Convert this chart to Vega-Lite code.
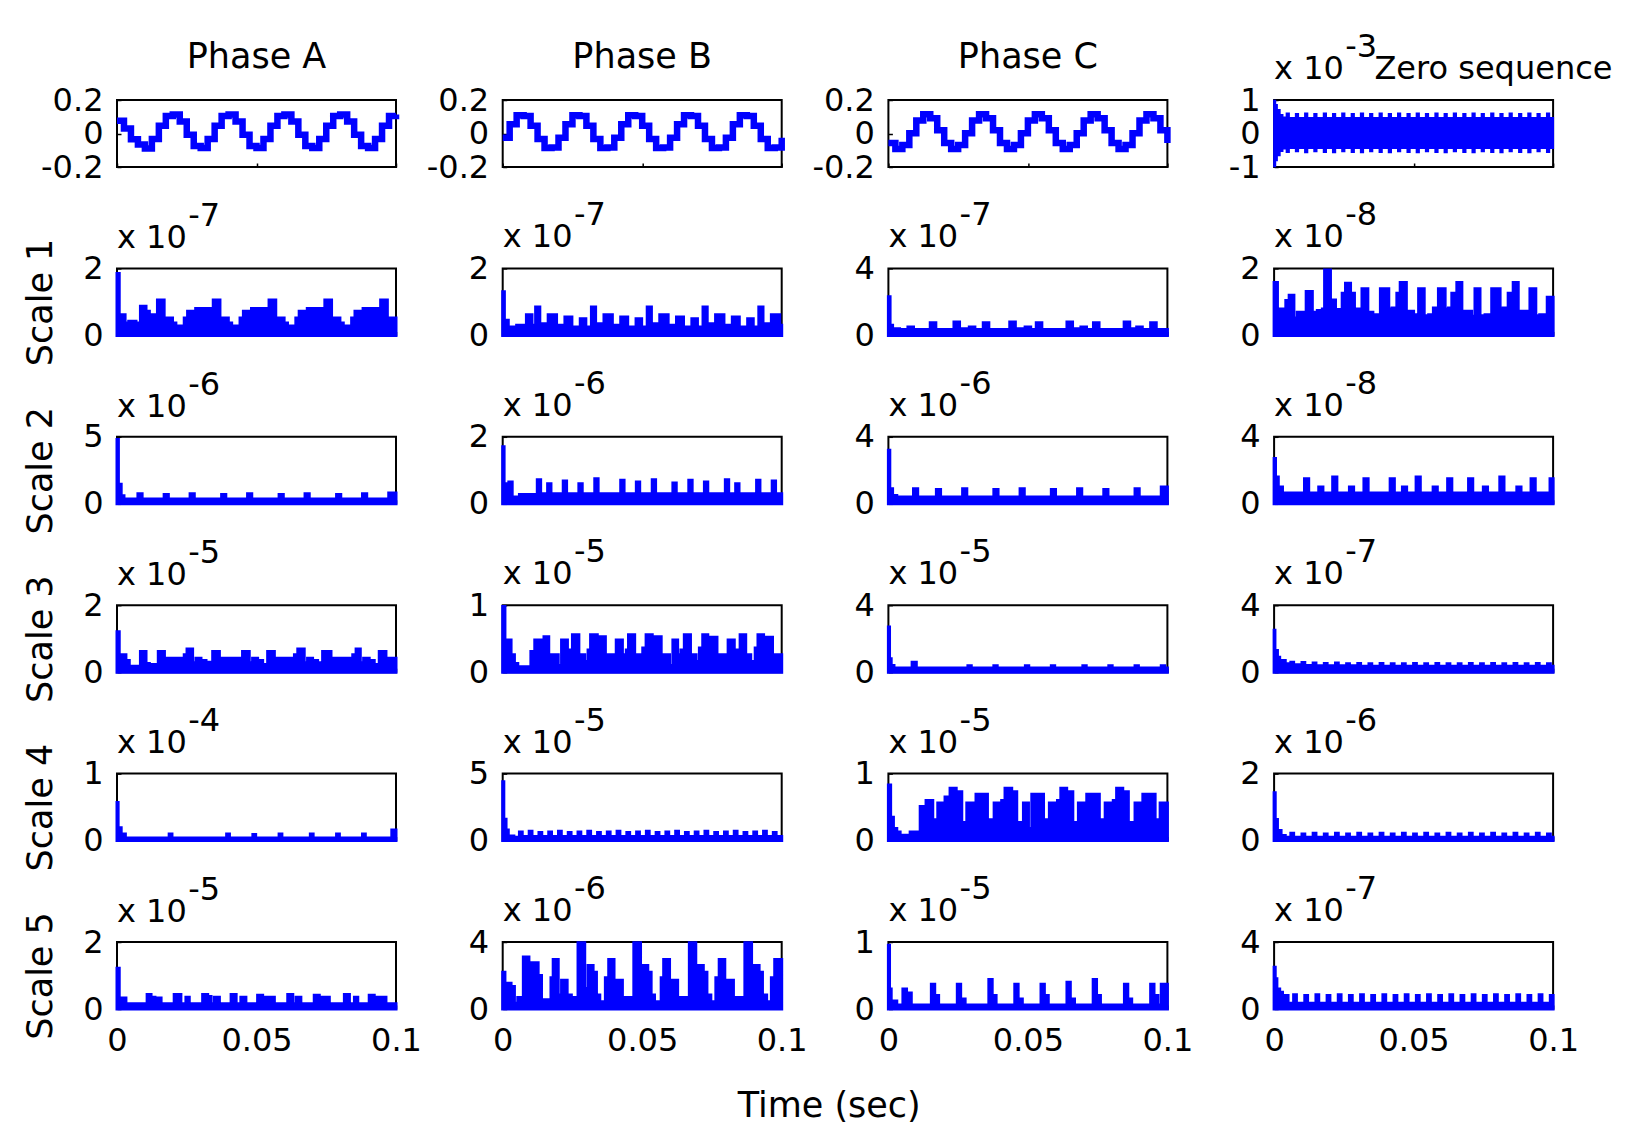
{
"$schema":"https://vega.github.io/schema/vega-lite/v6.json",
"background":"white",
"padding":{"left":21,"top":30,"right":5,"bottom":5},
"bounds":"flush",
"columns":4,
"spacing":{"row":101.4,"column":106.7},
"config":{
 "view":{"stroke":"#000","strokeWidth":2},
 "axis":{"domain":false,"grid":false,"ticks":true,"tickSize":-4,"tickWidth":1.5,"tickColor":"#000","labelFont":"DejaVu Sans","labelFontSize":32,"labelColor":"#000","titleFont":"DejaVu Sans","titleFontSize":35,"titleFontWeight":"normal","titleColor":"#000","labelFlush":false,"labelOverlap":false},
 "axisY":{"labelPadding":18},
 "axisX":{"labelPadding":20},
 "title":{"anchor":"start","frame":"group","font":"DejaVu Sans","fontSize":32,"fontWeight":"normal","color":"#000","subtitleFont":"DejaVu Sans","subtitleFontSize":32,"subtitleColor":"#000","subtitlePadding":-10,"offset":-2}
},
"datasets":{
"a":[{"t":0,"v":0.076},{"t":0.0025,"v":0.030},{"t":0.005,"v":-0.035},{"t":0.0075,"v":-0.065},{"t":0.01,"v":-0.090},{"t":0.0125,"v":-0.033},{"t":0.015,"v":0.047},{"t":0.0175,"v":0.105},
{"t":0.02,"v":0.113},{"t":0.0225,"v":0.071},{"t":0.025,"v":-0.007},{"t":0.0275,"v":-0.074},{"t":0.03,"v":-0.087},{"t":0.0325,"v":-0.033},{"t":0.035,"v":0.047},{"t":0.0375,"v":0.105},
{"t":0.04,"v":0.113},{"t":0.0425,"v":0.071},{"t":0.045,"v":-0.007},{"t":0.0475,"v":-0.074},{"t":0.05,"v":-0.087},{"t":0.0525,"v":-0.033},{"t":0.055,"v":0.047},{"t":0.0575,"v":0.105},
{"t":0.06,"v":0.113},{"t":0.0625,"v":0.071},{"t":0.065,"v":-0.007},{"t":0.0675,"v":-0.074},{"t":0.07,"v":-0.087},{"t":0.0725,"v":-0.033},{"t":0.075,"v":0.047},{"t":0.0775,"v":0.105},
{"t":0.08,"v":0.113},{"t":0.0825,"v":0.071},{"t":0.085,"v":-0.007},{"t":0.0875,"v":-0.074},{"t":0.09,"v":-0.087},{"t":0.0925,"v":-0.033},{"t":0.095,"v":0.047},{"t":0.0975,"v":0.105},{"t":0.1,"v":0.113}],
"b":[{"t":0,"v":-0.025},{"t":0.0025,"v":0.055},{"t":0.005,"v":0.109},{"t":0.0075,"v":0.105},{"t":0.01,"v":0.047},{"t":0.0125,"v":-0.033},{"t":0.015,"v":-0.087},{"t":0.0175,"v":-0.083},
{"t":0.02,"v":-0.025},{"t":0.0225,"v":0.055},{"t":0.025,"v":0.109},{"t":0.0275,"v":0.105},{"t":0.03,"v":0.047},{"t":0.0325,"v":-0.033},{"t":0.035,"v":-0.087},{"t":0.0375,"v":-0.083},
{"t":0.04,"v":-0.025},{"t":0.0425,"v":0.055},{"t":0.045,"v":0.109},{"t":0.0475,"v":0.105},{"t":0.05,"v":0.047},{"t":0.0525,"v":-0.033},{"t":0.055,"v":-0.087},{"t":0.0575,"v":-0.083},
{"t":0.06,"v":-0.025},{"t":0.0625,"v":0.055},{"t":0.065,"v":0.109},{"t":0.0675,"v":0.105},{"t":0.07,"v":0.047},{"t":0.0725,"v":-0.033},{"t":0.075,"v":-0.087},{"t":0.0775,"v":-0.083},
{"t":0.08,"v":-0.025},{"t":0.0825,"v":0.055},{"t":0.085,"v":0.109},{"t":0.0875,"v":0.105},{"t":0.09,"v":0.047},{"t":0.0925,"v":-0.033},{"t":0.095,"v":-0.087},{"t":0.0975,"v":-0.083},{"t":0.1,"v":-0.025}],
"c":[{"t":0,"v":-0.056},{"t":0.0025,"v":-0.093},{"t":0.005,"v":-0.069},{"t":0.0075,"v":0.002},{"t":0.01,"v":0.078},{"t":0.0125,"v":0.115},{"t":0.015,"v":0.091},{"t":0.0175,"v":0.020},
{"t":0.02,"v":-0.056},{"t":0.0225,"v":-0.093},{"t":0.025,"v":-0.069},{"t":0.0275,"v":0.002},{"t":0.03,"v":0.078},{"t":0.0325,"v":0.115},{"t":0.035,"v":0.091},{"t":0.0375,"v":0.020},
{"t":0.04,"v":-0.056},{"t":0.0425,"v":-0.093},{"t":0.045,"v":-0.069},{"t":0.0475,"v":0.002},{"t":0.05,"v":0.078},{"t":0.0525,"v":0.115},{"t":0.055,"v":0.091},{"t":0.0575,"v":0.020},
{"t":0.06,"v":-0.056},{"t":0.0625,"v":-0.093},{"t":0.065,"v":-0.069},{"t":0.0675,"v":0.002},{"t":0.07,"v":0.078},{"t":0.0725,"v":0.115},{"t":0.075,"v":0.091},{"t":0.0775,"v":0.020},
{"t":0.08,"v":-0.056},{"t":0.0825,"v":-0.093},{"t":0.085,"v":-0.069},{"t":0.0875,"v":0.002},{"t":0.09,"v":0.078},{"t":0.0925,"v":0.115},{"t":0.095,"v":0.091},{"t":0.0975,"v":0.020},{"t":0.1,"v":-0.056}],
"z":[{"t":0,"hi":0.98,"lo":-0.98},{"t":0.0004,"hi":0.85,"lo":-0.8},{"t":0.001,"hi":0.7,"lo":-0.65},{"t":0.002,"hi":0.55,"lo":-0.52},{"t":0.003,"hi":0.48,"lo":-0.45},
{"t":0.0045,"hi":0.6,"lo":-0.55},{"t":0.0053,"hi":0.46,"lo":-0.43},{"t":0.0078,"hi":0.58,"lo":-0.53},{"t":0.0086,"hi":0.46,"lo":-0.43},{"t":0.0111,"hi":0.6,"lo":-0.56},{"t":0.0119,"hi":0.46,"lo":-0.43},
{"t":0.0144,"hi":0.58,"lo":-0.53},{"t":0.0152,"hi":0.46,"lo":-0.43},{"t":0.0178,"hi":0.6,"lo":-0.55},{"t":0.0186,"hi":0.46,"lo":-0.43},{"t":0.0211,"hi":0.58,"lo":-0.56},{"t":0.0219,"hi":0.46,"lo":-0.43},
{"t":0.0244,"hi":0.6,"lo":-0.53},{"t":0.0252,"hi":0.46,"lo":-0.43},{"t":0.0278,"hi":0.58,"lo":-0.55},{"t":0.0286,"hi":0.46,"lo":-0.43},{"t":0.0311,"hi":0.6,"lo":-0.56},{"t":0.0319,"hi":0.46,"lo":-0.43},
{"t":0.0344,"hi":0.58,"lo":-0.53},{"t":0.0352,"hi":0.46,"lo":-0.43},{"t":0.0378,"hi":0.6,"lo":-0.55},{"t":0.0386,"hi":0.46,"lo":-0.43},{"t":0.0411,"hi":0.58,"lo":-0.56},{"t":0.0419,"hi":0.46,"lo":-0.43},
{"t":0.0444,"hi":0.6,"lo":-0.53},{"t":0.0452,"hi":0.46,"lo":-0.43},{"t":0.0478,"hi":0.58,"lo":-0.55},{"t":0.0486,"hi":0.46,"lo":-0.43},{"t":0.0511,"hi":0.6,"lo":-0.56},{"t":0.0519,"hi":0.46,"lo":-0.43},
{"t":0.0544,"hi":0.58,"lo":-0.53},{"t":0.0552,"hi":0.46,"lo":-0.43},{"t":0.0578,"hi":0.6,"lo":-0.55},{"t":0.0586,"hi":0.46,"lo":-0.43},{"t":0.0611,"hi":0.58,"lo":-0.56},{"t":0.0619,"hi":0.46,"lo":-0.43},
{"t":0.0644,"hi":0.6,"lo":-0.53},{"t":0.0652,"hi":0.46,"lo":-0.43},{"t":0.0678,"hi":0.58,"lo":-0.55},{"t":0.0686,"hi":0.46,"lo":-0.43},{"t":0.0711,"hi":0.6,"lo":-0.56},{"t":0.0719,"hi":0.46,"lo":-0.43},
{"t":0.0744,"hi":0.58,"lo":-0.53},{"t":0.0752,"hi":0.46,"lo":-0.43},{"t":0.0778,"hi":0.6,"lo":-0.55},{"t":0.0786,"hi":0.46,"lo":-0.43},{"t":0.0811,"hi":0.58,"lo":-0.56},{"t":0.0819,"hi":0.46,"lo":-0.43},
{"t":0.0844,"hi":0.6,"lo":-0.53},{"t":0.0852,"hi":0.46,"lo":-0.43},{"t":0.0878,"hi":0.58,"lo":-0.55},{"t":0.0886,"hi":0.46,"lo":-0.43},{"t":0.0911,"hi":0.6,"lo":-0.56},{"t":0.0919,"hi":0.46,"lo":-0.43},
{"t":0.0944,"hi":0.58,"lo":-0.53},{"t":0.0952,"hi":0.46,"lo":-0.43},{"t":0.0978,"hi":0.6,"lo":-0.55},{"t":0.0986,"hi":0.46,"lo":-0.43},{"t":0.1,"hi":0.46,"lo":-0.43}],
"r1c1":[{"t":0,"v":1.85},{"t":0.0008,"v":0.62},{"t":0.0029,"v":0.37},{"t":0.0038,"v":0.2},{"t":0.0042,"v":0.42},{"t":0.0068,"v":0.37},{"t":0.0084,"v":0.87},{"t":0.0104,"v":0.72},{"t":0.0116,"v":0.62},{"t":0.0136,"v":0.33},
{"t":0.0145,"v":1.06},{"t":0.0169,"v":0.42},{"t":0.0175,"v":0.52},{"t":0.0199,"v":0.37},{"t":0.0211,"v":0.28},{"t":0.0241,"v":0.52},{"t":0.0253,"v":0.72},{"t":0.0274,"v":0.47},{"t":0.0282,"v":0.8},{"t":0.0339,"v":0.45},
{"t":0.0345,"v":1.06},{"t":0.0369,"v":0.42},{"t":0.0375,"v":0.52},{"t":0.0399,"v":0.37},{"t":0.0411,"v":0.28},{"t":0.0441,"v":0.52},{"t":0.0453,"v":0.72},{"t":0.0474,"v":0.47},{"t":0.0482,"v":0.8},{"t":0.0539,"v":0.45},
{"t":0.0545,"v":1.06},{"t":0.0569,"v":0.42},{"t":0.0575,"v":0.52},{"t":0.0599,"v":0.37},{"t":0.0611,"v":0.28},{"t":0.0641,"v":0.52},{"t":0.0653,"v":0.72},{"t":0.0674,"v":0.47},{"t":0.0682,"v":0.8},{"t":0.0739,"v":0.45},
{"t":0.0745,"v":1.06},{"t":0.0769,"v":0.42},{"t":0.0775,"v":0.52},{"t":0.0799,"v":0.37},{"t":0.0811,"v":0.28},{"t":0.0841,"v":0.52},{"t":0.0853,"v":0.72},{"t":0.0874,"v":0.47},{"t":0.0882,"v":0.8},{"t":0.0939,"v":0.45},
{"t":0.0945,"v":1.06},{"t":0.0969,"v":0.42},{"t":0.0975,"v":0.52},{"t":0.1,"v":0.52}],
"r1c2":[{"t":0,"v":1.3},{"t":0.0006,"v":0.45},{"t":0.002,"v":0.25},{"t":0.005,"v":0.3},{"t":0.0085,"v":0.62},{"t":0.0105,"v":0.3},
{"t":0.0118,"v":0.85},{"t":0.0133,"v":0.35},{"t":0.0163,"v":0.62},{"t":0.0193,"v":0.3},{"t":0.0223,"v":0.55},{"t":0.0248,"v":0.25},{"t":0.0278,"v":0.5},{"t":0.0298,"v":0.25},
{"t":0.0318,"v":0.85},{"t":0.0333,"v":0.35},{"t":0.0363,"v":0.62},{"t":0.0393,"v":0.3},{"t":0.0423,"v":0.55},{"t":0.0448,"v":0.25},{"t":0.0478,"v":0.5},{"t":0.0498,"v":0.25},
{"t":0.0518,"v":0.85},{"t":0.0533,"v":0.35},{"t":0.0563,"v":0.62},{"t":0.0593,"v":0.3},{"t":0.0623,"v":0.55},{"t":0.0648,"v":0.25},{"t":0.0678,"v":0.5},{"t":0.0698,"v":0.25},
{"t":0.0718,"v":0.85},{"t":0.0733,"v":0.35},{"t":0.0763,"v":0.62},{"t":0.0793,"v":0.3},{"t":0.0823,"v":0.55},{"t":0.0848,"v":0.25},{"t":0.0878,"v":0.5},{"t":0.0898,"v":0.25},
{"t":0.0918,"v":0.85},{"t":0.0933,"v":0.35},{"t":0.0963,"v":0.62},{"t":0.0993,"v":0.3},{"t":0.1,"v":0.3}],
"r1c3":[{"t":0,"v":2.3},{"t":0.0006,"v":0.6},{"t":0.0015,"v":0.4},{"t":0.004,"v":0.35},{"t":0.007,"v":0.5},{"t":0.009,"v":0.35},{"t":0.015,"v":0.75},{"t":0.017,"v":0.35},{"t":0.0235,"v":0.8},{"t":0.0255,"v":0.4},{"t":0.029,"v":0.5},{"t":0.031,"v":0.35},
{"t":0.034,"v":0.75},{"t":0.036,"v":0.35},{"t":0.0435,"v":0.8},{"t":0.0455,"v":0.4},{"t":0.049,"v":0.5},{"t":0.051,"v":0.35},{"t":0.053,"v":0.75},{"t":0.055,"v":0.35},{"t":0.064,"v":0.8},{"t":0.066,"v":0.4},{"t":0.069,"v":0.5},{"t":0.071,"v":0.35},
{"t":0.0735,"v":0.75},{"t":0.0755,"v":0.35},{"t":0.0845,"v":0.8},{"t":0.0865,"v":0.4},{"t":0.089,"v":0.5},{"t":0.091,"v":0.35},{"t":0.094,"v":0.75},{"t":0.096,"v":0.35},{"t":0.1,"v":0.35}],
"r1c4":[{"t":0,"v":1.58},{"t":0.0012,"v":0.79},{"t":0.0042,"v":1.04},{"t":0.0054,"v":1.2},{"t":0.0071,"v":0.52},{"t":0.0083,"v":0.69},{"t":0.0107,"v":0.59},{"t":0.0115,"v":1.31},{"t":0.0137,"v":0.69},{"t":0.0155,"v":0.74},{"t":0.0173,"v":0.79},{"t":0.0181,"v":1.95},
{"t":0.0202,"v":1.06},{"t":0.022,"v":0.77},{"t":0.0244,"v":1.26},{"t":0.0256,"v":1.56},{"t":0.0274,"v":1.26},{"t":0.0288,"v":0.79},{"t":0.0306,"v":0.69},{"t":0.0315,"v":1.39},{"t":0.0336,"v":0.69},{"t":0.0354,"v":0.52},{"t":0.0363,"v":0.62},{"t":0.0381,"v":1.39},
{"t":0.0411,"v":0.79},{"t":0.0423,"v":0.82},{"t":0.044,"v":1.26},{"t":0.0452,"v":1.58},{"t":0.0474,"v":0.72},{"t":0.05,"v":0.62},{"t":0.0518,"v":1.39},{"t":0.0538,"v":0.59},{"t":0.0554,"v":0.62},{"t":0.0571,"v":0.82},{"t":0.0589,"v":1.39},
{"t":0.0613,"v":0.79},{"t":0.0625,"v":0.82},{"t":0.0637,"v":1.26},{"t":0.0655,"v":1.58},{"t":0.0673,"v":0.72},{"t":0.0708,"v":0.57},{"t":0.072,"v":1.39},{"t":0.0738,"v":0.59},{"t":0.0756,"v":0.62},{"t":0.078,"v":1.39},
{"t":0.081,"v":0.79},{"t":0.0821,"v":0.82},{"t":0.0839,"v":1.26},{"t":0.0857,"v":1.58},{"t":0.0875,"v":0.72},{"t":0.0917,"v":1.39},{"t":0.0938,"v":0.59},{"t":0.0952,"v":0.62},{"t":0.0979,"v":1.14},{"t":0.1,"v":1.14}],
"r2c1":[{"t":0,"v":4.8},{"t":0.0005,"v":1.45},{"t":0.0015,"v":0.6},{"t":0.0025,"v":0.35},{"t":0.0075,"v":0.75},{"t":0.009,"v":0.35},{"t":0.0169,"v":0.7},{"t":0.0184,"v":0.35},{"t":0.0262,"v":0.75},{"t":0.0277,"v":0.35},{"t":0.0375,"v":0.7},{"t":0.039,"v":0.35},
{"t":0.0468,"v":0.75},{"t":0.0483,"v":0.35},{"t":0.0581,"v":0.7},{"t":0.0596,"v":0.35},{"t":0.0674,"v":0.75},{"t":0.0689,"v":0.35},{"t":0.0787,"v":0.7},{"t":0.0802,"v":0.35},{"t":0.088,"v":0.75},{"t":0.0895,"v":0.35},{"t":0.0974,"v":0.8},{"t":0.1,"v":0.8}],
"r2c2":[{"t":0,"v":1.7},{"t":0.0005,"v":0.6},{"t":0.0012,"v":0.35},{"t":0.0022,"v":0.65},{"t":0.0034,"v":0.2},{"t":0.006,"v":0.28},{"t":0.0124,"v":0.72},{"t":0.0136,"v":0.3},{"t":0.0161,"v":0.6},{"t":0.0173,"v":0.3},{"t":0.0217,"v":0.68},{"t":0.0229,"v":0.3},
{"t":0.0273,"v":0.6},{"t":0.0285,"v":0.3},{"t":0.033,"v":0.75},{"t":0.0342,"v":0.3},{"t":0.0423,"v":0.7},{"t":0.0435,"v":0.3},{"t":0.0479,"v":0.65},{"t":0.0491,"v":0.3},{"t":0.0536,"v":0.72},{"t":0.0548,"v":0.3},{"t":0.061,"v":0.62},{"t":0.0622,"v":0.3},
{"t":0.0667,"v":0.7},{"t":0.0679,"v":0.3},{"t":0.0723,"v":0.65},{"t":0.0735,"v":0.3},{"t":0.0798,"v":0.72},{"t":0.081,"v":0.3},{"t":0.0835,"v":0.6},{"t":0.0847,"v":0.3},{"t":0.091,"v":0.7},{"t":0.0922,"v":0.3},{"t":0.0966,"v":0.68},{"t":0.0978,"v":0.3},{"t":0.1,"v":0.3}],
"r2c3":[{"t":0,"v":3.2},{"t":0.0005,"v":0.9},{"t":0.0015,"v":0.5},{"t":0.003,"v":0.4},{"t":0.009,"v":0.9},{"t":0.0105,"v":0.4},{"t":0.0172,"v":0.85},{"t":0.0187,"v":0.4},{"t":0.0266,"v":0.9},{"t":0.0281,"v":0.4},{"t":0.0378,"v":0.85},{"t":0.0393,"v":0.4},
{"t":0.0472,"v":0.9},{"t":0.0487,"v":0.4},{"t":0.0584,"v":0.85},{"t":0.0599,"v":0.4},{"t":0.0678,"v":0.9},{"t":0.0693,"v":0.4},{"t":0.0772,"v":0.85},{"t":0.0787,"v":0.4},{"t":0.0884,"v":0.9},{"t":0.0899,"v":0.4},{"t":0.0978,"v":1.0},{"t":0.1,"v":1.0}],
"r2c4":[{"t":0,"v":2.7},{"t":0.0005,"v":1.6},{"t":0.0015,"v":1.0},{"t":0.003,"v":0.65},{"t":0.0109,"v":1.5},{"t":0.0124,"v":0.65},{"t":0.016,"v":1.0},{"t":0.0175,"v":0.65},{"t":0.021,"v":1.6},{"t":0.0225,"v":0.65},{"t":0.027,"v":1.0},{"t":0.0285,"v":0.65},
{"t":0.0322,"v":1.5},{"t":0.0337,"v":0.65},{"t":0.0416,"v":1.5},{"t":0.0431,"v":0.65},{"t":0.046,"v":1.0},{"t":0.0475,"v":0.65},{"t":0.0509,"v":1.6},{"t":0.0524,"v":0.65},{"t":0.057,"v":1.0},{"t":0.0585,"v":0.65},
{"t":0.0622,"v":1.5},{"t":0.0637,"v":0.65},{"t":0.0697,"v":1.5},{"t":0.0712,"v":0.65},{"t":0.075,"v":1.0},{"t":0.0765,"v":0.65},{"t":0.0809,"v":1.6},{"t":0.0824,"v":0.65},{"t":0.087,"v":1.0},{"t":0.0885,"v":0.65},{"t":0.0921,"v":1.5},{"t":0.0936,"v":0.65},{"t":0.0989,"v":1.5},{"t":0.1,"v":1.5}],
"r3c1":[{"t":0,"v":1.21},{"t":0.0008,"v":0.52},{"t":0.0032,"v":0.35},{"t":0.0044,"v":0.18},{"t":0.0084,"v":0.62},{"t":0.0104,"v":0.26},{"t":0.0116,"v":0.23},{"t":0.0148,"v":0.62},{"t":0.017,"v":0.33},{"t":0.0179,"v":0.42},{"t":0.0241,"v":0.52},{"t":0.0251,"v":0.69},
{"t":0.0271,"v":0.28},{"t":0.0283,"v":0.42},{"t":0.0301,"v":0.35},{"t":0.0319,"v":0.3},{"t":0.0343,"v":0.62},{"t":0.0367,"v":0.42},{"t":0.045,"v":0.62},{"t":0.0474,"v":0.28},{"t":0.0486,"v":0.42},{"t":0.0504,"v":0.35},{"t":0.0522,"v":0.23},{"t":0.054,"v":0.62},
{"t":0.0564,"v":0.42},{"t":0.0636,"v":0.52},{"t":0.0648,"v":0.69},{"t":0.0671,"v":0.28},{"t":0.0683,"v":0.42},{"t":0.0701,"v":0.35},{"t":0.0719,"v":0.28},{"t":0.0737,"v":0.62},{"t":0.0767,"v":0.42},{"t":0.0845,"v":0.52},{"t":0.0857,"v":0.69},
{"t":0.0872,"v":0.28},{"t":0.0884,"v":0.42},{"t":0.0904,"v":0.35},{"t":0.0922,"v":0.23},{"t":0.094,"v":0.62},{"t":0.0964,"v":0.42},{"t":0.1,"v":0.42}],
"r3c2":[{"t":0,"v":0.98},{"t":0.0008,"v":0.48},{"t":0.003,"v":0.26},{"t":0.0042,"v":0.13},{"t":0.0054,"v":0.08},{"t":0.0101,"v":0.31},{"t":0.0115,"v":0.48},{"t":0.0139,"v":0.16},{"t":0.0148,"v":0.53},{"t":0.0165,"v":0.26},{"t":0.0199,"v":0.1},{"t":0.0211,"v":0.48},
{"t":0.0232,"v":0.26},{"t":0.024,"v":0.33},{"t":0.025,"v":0.56},{"t":0.0273,"v":0.26},{"t":0.0294,"v":0.16},{"t":0.0306,"v":0.33},{"t":0.0315,"v":0.56},{"t":0.0339,"v":0.16},{"t":0.0348,"v":0.53},{"t":0.0368,"v":0.26},{"t":0.0401,"v":0.1},{"t":0.0407,"v":0.48},
{"t":0.0429,"v":0.26},{"t":0.0443,"v":0.33},{"t":0.0451,"v":0.56},{"t":0.0473,"v":0.26},{"t":0.0494,"v":0.16},{"t":0.0502,"v":0.36},{"t":0.0514,"v":0.56},{"t":0.0536,"v":0.16},{"t":0.0546,"v":0.53},{"t":0.0568,"v":0.26},{"t":0.0598,"v":0.1},{"t":0.061,"v":0.48},
{"t":0.0627,"v":0.26},{"t":0.0639,"v":0.33},{"t":0.0651,"v":0.56},{"t":0.0673,"v":0.26},{"t":0.0693,"v":0.16},{"t":0.0705,"v":0.36},{"t":0.0717,"v":0.56},{"t":0.0735,"v":0.16},{"t":0.0743,"v":0.52},{"t":0.0768,"v":0.26},{"t":0.08,"v":0.1},{"t":0.0808,"v":0.48},
{"t":0.083,"v":0.26},{"t":0.0839,"v":0.33},{"t":0.0851,"v":0.56},{"t":0.0871,"v":0.26},{"t":0.0889,"v":0.16},{"t":0.0905,"v":0.36},{"t":0.0915,"v":0.56},{"t":0.0935,"v":0.16},{"t":0.0943,"v":0.52},{"t":0.0967,"v":0.26},{"t":0.1,"v":0.26}],
"r3c3":[{"t":0,"v":2.7},{"t":0.0004,"v":0.8},{"t":0.001,"v":0.4},{"t":0.002,"v":0.25},{"t":0.0085,"v":0.6},{"t":0.01,"v":0.25},{"t":0.0285,"v":0.38},{"t":0.0297,"v":0.25},{"t":0.0378,"v":0.38},{"t":0.039,"v":0.25},{"t":0.0491,"v":0.38},{"t":0.0503,"v":0.25},
{"t":0.0584,"v":0.38},{"t":0.0596,"v":0.25},{"t":0.0697,"v":0.38},{"t":0.0709,"v":0.25},{"t":0.079,"v":0.38},{"t":0.0802,"v":0.25},{"t":0.0884,"v":0.38},{"t":0.0896,"v":0.25},{"t":0.0978,"v":0.38},{"t":0.099,"v":0.25},{"t":0.1,"v":0.25}],
"r3c4":[{"t":0,"v":2.5},{"t":0.0003,"v":1.3},{"t":0.0012,"v":0.9},{"t":0.002,"v":0.7},{"t":0.004,"v":0.5},{"t":0.006,"v":0.6},{"t":0.007,"v":0.45},{"t":0.01,"v":0.58},{"t":0.011,"v":0.4},{"t":0.014,"v":0.55},{"t":0.015,"v":0.38},{"t":0.018,"v":0.52},{"t":0.019,"v":0.38},
{"t":0.022,"v":0.55},{"t":0.023,"v":0.38},{"t":0.026,"v":0.5},{"t":0.027,"v":0.38},{"t":0.03,"v":0.52},{"t":0.031,"v":0.36},{"t":0.034,"v":0.5},{"t":0.035,"v":0.36},{"t":0.038,"v":0.52},{"t":0.039,"v":0.36},{"t":0.042,"v":0.5},{"t":0.043,"v":0.36},
{"t":0.046,"v":0.5},{"t":0.047,"v":0.36},{"t":0.05,"v":0.52},{"t":0.051,"v":0.36},{"t":0.054,"v":0.5},{"t":0.055,"v":0.36},{"t":0.058,"v":0.52},{"t":0.059,"v":0.36},{"t":0.062,"v":0.5},{"t":0.063,"v":0.36},{"t":0.066,"v":0.5},{"t":0.067,"v":0.36},
{"t":0.07,"v":0.52},{"t":0.071,"v":0.36},{"t":0.074,"v":0.5},{"t":0.075,"v":0.36},{"t":0.078,"v":0.52},{"t":0.079,"v":0.36},{"t":0.082,"v":0.5},{"t":0.083,"v":0.36},{"t":0.086,"v":0.52},{"t":0.087,"v":0.36},{"t":0.09,"v":0.5},{"t":0.091,"v":0.36},
{"t":0.094,"v":0.52},{"t":0.095,"v":0.36},{"t":0.098,"v":0.5},{"t":0.099,"v":0.36},{"t":0.1,"v":0.36}],
"r4c1":[{"t":0,"v":0.57},{"t":0.0004,"v":0.19},{"t":0.0015,"v":0.1},{"t":0.003,"v":0.04},{"t":0.0187,"v":0.1},{"t":0.0197,"v":0.04},{"t":0.0393,"v":0.1},{"t":0.0403,"v":0.04},{"t":0.0487,"v":0.09},{"t":0.0497,"v":0.04},{"t":0.0581,"v":0.1},{"t":0.0591,"v":0.04},
{"t":0.0693,"v":0.1},{"t":0.0703,"v":0.04},{"t":0.0787,"v":0.1},{"t":0.0797,"v":0.04},{"t":0.088,"v":0.1},{"t":0.089,"v":0.04},{"t":0.0985,"v":0.16},{"t":0.1,"v":0.16}],
"r4c2":[{"t":0,"v":4.4},{"t":0.0004,"v":1.6},{"t":0.0012,"v":0.8},{"t":0.002,"v":0.35},{"t":0.004,"v":0.25},{"t":0.006,"v":0.65},{"t":0.007,"v":0.3},{"t":0.0095,"v":0.7},{"t":0.0105,"v":0.3},{"t":0.013,"v":0.6},{"t":0.014,"v":0.3},{"t":0.0165,"v":0.65},{"t":0.0175,"v":0.3},
{"t":0.02,"v":0.7},{"t":0.021,"v":0.3},{"t":0.0235,"v":0.6},{"t":0.0245,"v":0.3},{"t":0.027,"v":0.65},{"t":0.028,"v":0.3},{"t":0.0305,"v":0.7},{"t":0.0315,"v":0.3},{"t":0.034,"v":0.6},{"t":0.035,"v":0.3},{"t":0.0375,"v":0.65},{"t":0.0385,"v":0.3},
{"t":0.041,"v":0.7},{"t":0.042,"v":0.3},{"t":0.0445,"v":0.6},{"t":0.0455,"v":0.3},{"t":0.048,"v":0.65},{"t":0.049,"v":0.3},{"t":0.0515,"v":0.7},{"t":0.0525,"v":0.3},{"t":0.055,"v":0.6},{"t":0.056,"v":0.3},{"t":0.0585,"v":0.65},{"t":0.0595,"v":0.3},
{"t":0.062,"v":0.7},{"t":0.063,"v":0.3},{"t":0.0655,"v":0.6},{"t":0.0665,"v":0.3},{"t":0.069,"v":0.65},{"t":0.07,"v":0.3},{"t":0.0725,"v":0.7},{"t":0.0735,"v":0.3},{"t":0.076,"v":0.6},{"t":0.077,"v":0.3},{"t":0.0795,"v":0.65},{"t":0.0805,"v":0.3},
{"t":0.083,"v":0.7},{"t":0.084,"v":0.3},{"t":0.0865,"v":0.6},{"t":0.0875,"v":0.3},{"t":0.09,"v":0.65},{"t":0.091,"v":0.3},{"t":0.0935,"v":0.7},{"t":0.0945,"v":0.3},{"t":0.097,"v":0.6},{"t":0.098,"v":0.3},{"t":0.1,"v":0.3}],
"r4c3":[{"t":0,"v":0.83},{"t":0.0008,"v":0.35},{"t":0.0018,"v":0.18},{"t":0.003,"v":0.13},{"t":0.0042,"v":0.08},{"t":0.0078,"v":0.13},{"t":0.0114,"v":0.51},{"t":0.0135,"v":0.6},{"t":0.0159,"v":0.31},{"t":0.0177,"v":0.56},{"t":0.0197,"v":0.35},{"t":0.0203,"v":0.65},
{"t":0.0221,"v":0.78},{"t":0.0243,"v":0.73},{"t":0.0263,"v":0.27},{"t":0.0281,"v":0.56},{"t":0.0305,"v":0.18},{"t":0.0314,"v":0.69},{"t":0.0355,"v":0.31},{"t":0.0379,"v":0.56},{"t":0.0398,"v":0.27},{"t":0.0406,"v":0.6},{"t":0.0418,"v":0.78},{"t":0.0442,"v":0.73},
{"t":0.046,"v":0.27},{"t":0.0484,"v":0.56},{"t":0.0502,"v":0.18},{"t":0.0514,"v":0.69},{"t":0.0556,"v":0.31},{"t":0.0577,"v":0.56},{"t":0.0597,"v":0.27},{"t":0.0606,"v":0.6},{"t":0.0618,"v":0.78},{"t":0.0639,"v":0.73},{"t":0.0661,"v":0.27},{"t":0.0681,"v":0.56},
{"t":0.0701,"v":0.18},{"t":0.0711,"v":0.69},{"t":0.0756,"v":0.31},{"t":0.0777,"v":0.56},{"t":0.0797,"v":0.27},{"t":0.0806,"v":0.6},{"t":0.0818,"v":0.78},{"t":0.084,"v":0.73},{"t":0.086,"v":0.27},{"t":0.0884,"v":0.56},{"t":0.0902,"v":0.18},{"t":0.0912,"v":0.69},
{"t":0.0956,"v":0.31},{"t":0.0974,"v":0.56},{"t":0.1,"v":0.56}],
"r4c4":[{"t":0,"v":1.43},{"t":0.0004,"v":0.63},{"t":0.0012,"v":0.3},{"t":0.0025,"v":0.15},{"t":0.004,"v":0.1},{"t":0.006,"v":0.22},{"t":0.007,"v":0.1},{"t":0.01,"v":0.2},{"t":0.011,"v":0.1},{"t":0.014,"v":0.22},{"t":0.015,"v":0.1},{"t":0.018,"v":0.2},{"t":0.019,"v":0.1},
{"t":0.022,"v":0.22},{"t":0.023,"v":0.1},{"t":0.026,"v":0.2},{"t":0.027,"v":0.1},{"t":0.03,"v":0.22},{"t":0.031,"v":0.1},{"t":0.034,"v":0.2},{"t":0.035,"v":0.1},{"t":0.038,"v":0.22},{"t":0.039,"v":0.1},{"t":0.042,"v":0.2},{"t":0.043,"v":0.1},
{"t":0.046,"v":0.22},{"t":0.047,"v":0.1},{"t":0.05,"v":0.2},{"t":0.051,"v":0.1},{"t":0.054,"v":0.22},{"t":0.055,"v":0.1},{"t":0.058,"v":0.2},{"t":0.059,"v":0.1},{"t":0.062,"v":0.22},{"t":0.063,"v":0.1},{"t":0.066,"v":0.2},{"t":0.067,"v":0.1},
{"t":0.07,"v":0.22},{"t":0.071,"v":0.1},{"t":0.074,"v":0.2},{"t":0.075,"v":0.1},{"t":0.078,"v":0.22},{"t":0.079,"v":0.1},{"t":0.082,"v":0.2},{"t":0.083,"v":0.1},{"t":0.086,"v":0.22},{"t":0.087,"v":0.1},{"t":0.09,"v":0.2},{"t":0.091,"v":0.1},
{"t":0.094,"v":0.22},{"t":0.095,"v":0.1},{"t":0.098,"v":0.2},{"t":0.099,"v":0.1},{"t":0.1,"v":0.1}],
"r5c1":[{"t":0,"v":1.22},{"t":0.0008,"v":0.33},{"t":0.0032,"v":0.16},{"t":0.0108,"v":0.43},{"t":0.0122,"v":0.35},{"t":0.0136,"v":0.33},{"t":0.0158,"v":0.16},{"t":0.0205,"v":0.43},{"t":0.0229,"v":0.16},{"t":0.0247,"v":0.35},{"t":0.0259,"v":0.16},
{"t":0.0307,"v":0.43},{"t":0.0325,"v":0.37},{"t":0.0337,"v":0.16},{"t":0.0349,"v":0.35},{"t":0.0367,"v":0.16},{"t":0.0409,"v":0.43},{"t":0.0427,"v":0.16},{"t":0.0444,"v":0.35},{"t":0.0462,"v":0.16},{"t":0.0504,"v":0.41},{"t":0.0522,"v":0.35},{"t":0.054,"v":0.16},
{"t":0.0546,"v":0.35},{"t":0.0564,"v":0.16},{"t":0.0612,"v":0.43},{"t":0.063,"v":0.16},{"t":0.0642,"v":0.35},{"t":0.0659,"v":0.16},{"t":0.0707,"v":0.41},{"t":0.0725,"v":0.35},{"t":0.0761,"v":0.16},{"t":0.0815,"v":0.43},{"t":0.0833,"v":0.16},
{"t":0.0851,"v":0.35},{"t":0.0863,"v":0.16},{"t":0.0904,"v":0.41},{"t":0.0922,"v":0.35},{"t":0.0964,"v":0.16},{"t":0.1,"v":0.16}],
"r5c2":[{"t":0,"v":2.2},{"t":0.0008,"v":1.54},{"t":0.003,"v":1.34},{"t":0.0042,"v":0.35},{"t":0.0054,"v":0.69},{"t":0.0074,"v":3.11},{"t":0.0094,"v":1.02},{"t":0.0104,"v":2.76},{"t":0.0127,"v":2.0},{"t":0.0139,"v":0.55},{"t":0.0163,"v":0.39},
{"t":0.0173,"v":1.87},{"t":0.0181,"v":2.96},{"t":0.0199,"v":0.83},{"t":0.0211,"v":1.71},{"t":0.0231,"v":0.83},{"t":0.0246,"v":0.69},{"t":0.027,"v":3.95},{"t":0.0294,"v":1.22},{"t":0.0306,"v":2.6},{"t":0.0324,"v":2.2},{"t":0.0336,"v":0.83},{"t":0.0348,"v":0.43},
{"t":0.0368,"v":1.87},{"t":0.038,"v":2.96},{"t":0.0399,"v":0.83},{"t":0.0407,"v":1.71},{"t":0.0429,"v":0.69},{"t":0.047,"v":3.95},{"t":0.0494,"v":1.22},{"t":0.0502,"v":2.6},{"t":0.052,"v":2.2},{"t":0.0532,"v":0.83},{"t":0.0544,"v":0.43},
{"t":0.0568,"v":1.87},{"t":0.0577,"v":2.96},{"t":0.0598,"v":0.83},{"t":0.0607,"v":1.71},{"t":0.0627,"v":0.69},{"t":0.0669,"v":3.95},{"t":0.0692,"v":1.22},{"t":0.0701,"v":2.6},{"t":0.0719,"v":2.2},{"t":0.0732,"v":0.83},{"t":0.0746,"v":0.43},
{"t":0.0764,"v":1.87},{"t":0.0776,"v":2.96},{"t":0.0796,"v":0.83},{"t":0.0806,"v":1.71},{"t":0.0827,"v":0.69},{"t":0.0868,"v":3.95},{"t":0.0892,"v":1.22},{"t":0.0901,"v":2.6},{"t":0.0919,"v":2.2},{"t":0.0931,"v":0.83},{"t":0.0946,"v":0.43},
{"t":0.0963,"v":1.87},{"t":0.0975,"v":2.96},{"t":0.1,"v":2.96}],
"r5c3":[{"t":0,"v":0.95},{"t":0.0004,"v":0.3},{"t":0.001,"v":0.12},{"t":0.003,"v":0.06},{"t":0.0052,"v":0.3},{"t":0.0065,"v":0.24},{"t":0.0082,"v":0.06},{"t":0.0154,"v":0.37},{"t":0.0166,"v":0.2},{"t":0.018,"v":0.06},{"t":0.0247,"v":0.37},{"t":0.0259,"v":0.15},{"t":0.0275,"v":0.06},
{"t":0.036,"v":0.44},{"t":0.0372,"v":0.2},{"t":0.0386,"v":0.06},{"t":0.0453,"v":0.37},{"t":0.0465,"v":0.15},{"t":0.048,"v":0.06},{"t":0.0547,"v":0.37},{"t":0.0559,"v":0.2},{"t":0.0573,"v":0.06},{"t":0.064,"v":0.4},{"t":0.0652,"v":0.15},{"t":0.0667,"v":0.06},
{"t":0.0734,"v":0.44},{"t":0.0746,"v":0.2},{"t":0.076,"v":0.06},{"t":0.0846,"v":0.37},{"t":0.0858,"v":0.15},{"t":0.0872,"v":0.06},{"t":0.094,"v":0.37},{"t":0.0952,"v":0.2},{"t":0.0966,"v":0.06},{"t":0.0978,"v":0.37},{"t":0.1,"v":0.37}],
"r5c4":[{"t":0,"v":2.5},{"t":0.0004,"v":1.8},{"t":0.001,"v":1.2},{"t":0.002,"v":1.0},{"t":0.003,"v":0.8},{"t":0.005,"v":0.35},{"t":0.007,"v":0.85},{"t":0.008,"v":0.35},{"t":0.011,"v":0.8},{"t":0.012,"v":0.35},{"t":0.015,"v":0.85},{"t":0.016,"v":0.35},
{"t":0.019,"v":0.8},{"t":0.02,"v":0.35},{"t":0.023,"v":0.85},{"t":0.024,"v":0.35},{"t":0.027,"v":0.8},{"t":0.028,"v":0.35},{"t":0.031,"v":0.85},{"t":0.032,"v":0.35},{"t":0.035,"v":0.8},{"t":0.036,"v":0.35},{"t":0.039,"v":0.85},{"t":0.04,"v":0.35},
{"t":0.043,"v":0.8},{"t":0.044,"v":0.35},{"t":0.047,"v":0.85},{"t":0.048,"v":0.35},{"t":0.051,"v":0.8},{"t":0.052,"v":0.35},{"t":0.055,"v":0.85},{"t":0.056,"v":0.35},{"t":0.059,"v":0.8},{"t":0.06,"v":0.35},{"t":0.063,"v":0.85},{"t":0.064,"v":0.35},
{"t":0.067,"v":0.8},{"t":0.068,"v":0.35},{"t":0.071,"v":0.85},{"t":0.072,"v":0.35},{"t":0.075,"v":0.8},{"t":0.076,"v":0.35},{"t":0.079,"v":0.85},{"t":0.08,"v":0.35},{"t":0.083,"v":0.8},{"t":0.084,"v":0.35},{"t":0.087,"v":0.85},{"t":0.088,"v":0.35},
{"t":0.091,"v":0.8},{"t":0.092,"v":0.35},{"t":0.095,"v":0.85},{"t":0.096,"v":0.35},{"t":0.099,"v":0.8},{"t":0.1,"v":0.8}]
},
"concat":[
{"width":279,"height":67,"data":{"name":"a"},"title":{"text":"Phase A","anchor":"middle","fontSize":35,"offset":9},
 "mark":{"type":"line","interpolate":"step-after","color":"#0000ff","strokeWidth":6.5},
 "encoding":{"x":{"field":"t","type":"quantitative","scale":{"domain":[0,0.1],"nice":false},"axis":{"values":[0,0.05,0.1],"labels":false,"title":null}},
  "y":{"field":"v","type":"quantitative","scale":{"domain":[-0.2,0.2],"nice":false},"axis":{"values":[-0.2,0,0.2],"labelExpr":"''+datum.value","title":null}}}},
{"width":279,"height":67,"data":{"name":"b"},"title":{"text":"Phase B","anchor":"middle","fontSize":35,"offset":9},
 "mark":{"type":"line","interpolate":"step-after","color":"#0000ff","strokeWidth":6.5},
 "encoding":{"x":{"field":"t","type":"quantitative","scale":{"domain":[0,0.1],"nice":false},"axis":{"values":[0,0.05,0.1],"labels":false,"title":null}},
  "y":{"field":"v","type":"quantitative","scale":{"domain":[-0.2,0.2],"nice":false},"axis":{"values":[-0.2,0,0.2],"labelExpr":"''+datum.value","title":null}}}},
{"width":279,"height":67,"data":{"name":"c"},"title":{"text":"Phase C","anchor":"middle","fontSize":35,"offset":9},
 "mark":{"type":"line","interpolate":"step-after","color":"#0000ff","strokeWidth":6.5},
 "encoding":{"x":{"field":"t","type":"quantitative","scale":{"domain":[0,0.1],"nice":false},"axis":{"values":[0,0.05,0.1],"labels":false,"title":null}},
  "y":{"field":"v","type":"quantitative","scale":{"domain":[-0.2,0.2],"nice":false},"axis":{"values":[-0.2,0,0.2],"labelExpr":"''+datum.value","title":null}}}},
{"width":279,"height":67,"data":{"name":"z"},"title":{"text":"\u200b\u00a0\u00a0\u00a0\u00a0\u00a0\u00a0\u00a0-3","subtitle":"x 10\u00a0\u00a0\u00a0Zero sequence","offset":-2},
 "mark":{"type":"area","interpolate":"step-after","color":"#0000ff","stroke":"#0000ff","strokeWidth":2},
 "encoding":{"x":{"field":"t","type":"quantitative","scale":{"domain":[0,0.1],"nice":false},"axis":{"values":[0,0.05,0.1],"labels":false,"title":null}},
  "y":{"field":"hi","type":"quantitative","scale":{"domain":[-1,1],"nice":false},"axis":{"values":[-1,0,1],"labelExpr":"''+datum.value","title":null}},"y2":{"field":"lo"}}},

{"width":279,"height":67,"data":{"name":"r1c1"},"title":{"text":"\u200b\u00a0\u00a0\u00a0\u00a0\u00a0\u00a0\u00a0-7","subtitle":"x 10","offset":-17},
 "mark":{"type":"area","interpolate":"step-after","color":"#0000ff","stroke":"#0000ff","strokeWidth":3},
 "encoding":{"x":{"field":"t","type":"quantitative","scale":{"domain":[0,0.1],"nice":false},"axis":{"values":[0,0.05,0.1],"labels":false,"title":null}},
  "y":{"field":"v","type":"quantitative","scale":{"domain":[0,2],"nice":false},"axis":{"values":[0,2],"labelExpr":"''+datum.value","title":"Scale 1","titleX":-77,"titleY":33.5,"titleAngle":270,"titleAlign":"center","titleBaseline":"middle"}}}},
{"width":279,"height":67,"data":{"name":"r1c2"},"title":{"text":"\u200b\u00a0\u00a0\u00a0\u00a0\u00a0\u00a0\u00a0-7","subtitle":"x 10"},
 "mark":{"type":"area","interpolate":"step-after","color":"#0000ff","stroke":"#0000ff","strokeWidth":3},
 "encoding":{"x":{"field":"t","type":"quantitative","scale":{"domain":[0,0.1],"nice":false},"axis":{"values":[0,0.05,0.1],"labels":false,"title":null}},
  "y":{"field":"v","type":"quantitative","scale":{"domain":[0,2],"nice":false},"axis":{"values":[0,2],"labelExpr":"''+datum.value","title":null}}}},
{"width":279,"height":67,"data":{"name":"r1c3"},"title":{"text":"\u200b\u00a0\u00a0\u00a0\u00a0\u00a0\u00a0\u00a0-7","subtitle":"x 10"},
 "mark":{"type":"area","interpolate":"step-after","color":"#0000ff","stroke":"#0000ff","strokeWidth":3},
 "encoding":{"x":{"field":"t","type":"quantitative","scale":{"domain":[0,0.1],"nice":false},"axis":{"values":[0,0.05,0.1],"labels":false,"title":null}},
  "y":{"field":"v","type":"quantitative","scale":{"domain":[0,4],"nice":false},"axis":{"values":[0,4],"labelExpr":"''+datum.value","title":null}}}},
{"width":279,"height":67,"data":{"name":"r1c4"},"title":{"text":"\u200b\u00a0\u00a0\u00a0\u00a0\u00a0\u00a0\u00a0-8","subtitle":"x 10"},
 "mark":{"type":"area","interpolate":"step-after","color":"#0000ff","stroke":"#0000ff","strokeWidth":3},
 "encoding":{"x":{"field":"t","type":"quantitative","scale":{"domain":[0,0.1],"nice":false},"axis":{"values":[0,0.05,0.1],"labels":false,"title":null}},
  "y":{"field":"v","type":"quantitative","scale":{"domain":[0,2],"nice":false},"axis":{"values":[0,2],"labelExpr":"''+datum.value","title":null}}}},

{"width":279,"height":67,"data":{"name":"r2c1"},"title":{"text":"\u200b\u00a0\u00a0\u00a0\u00a0\u00a0\u00a0\u00a0-6","subtitle":"x 10","offset":-17},
 "mark":{"type":"area","interpolate":"step-after","color":"#0000ff","stroke":"#0000ff","strokeWidth":3},
 "encoding":{"x":{"field":"t","type":"quantitative","scale":{"domain":[0,0.1],"nice":false},"axis":{"values":[0,0.05,0.1],"labels":false,"title":null}},
  "y":{"field":"v","type":"quantitative","scale":{"domain":[0,5],"nice":false},"axis":{"values":[0,5],"labelExpr":"''+datum.value","title":"Scale 2","titleX":-77,"titleY":33.5,"titleAngle":270,"titleAlign":"center","titleBaseline":"middle"}}}},
{"width":279,"height":67,"data":{"name":"r2c2"},"title":{"text":"\u200b\u00a0\u00a0\u00a0\u00a0\u00a0\u00a0\u00a0-6","subtitle":"x 10"},
 "mark":{"type":"area","interpolate":"step-after","color":"#0000ff","stroke":"#0000ff","strokeWidth":3},
 "encoding":{"x":{"field":"t","type":"quantitative","scale":{"domain":[0,0.1],"nice":false},"axis":{"values":[0,0.05,0.1],"labels":false,"title":null}},
  "y":{"field":"v","type":"quantitative","scale":{"domain":[0,2],"nice":false},"axis":{"values":[0,2],"labelExpr":"''+datum.value","title":null}}}},
{"width":279,"height":67,"data":{"name":"r2c3"},"title":{"text":"\u200b\u00a0\u00a0\u00a0\u00a0\u00a0\u00a0\u00a0-6","subtitle":"x 10"},
 "mark":{"type":"area","interpolate":"step-after","color":"#0000ff","stroke":"#0000ff","strokeWidth":3},
 "encoding":{"x":{"field":"t","type":"quantitative","scale":{"domain":[0,0.1],"nice":false},"axis":{"values":[0,0.05,0.1],"labels":false,"title":null}},
  "y":{"field":"v","type":"quantitative","scale":{"domain":[0,4],"nice":false},"axis":{"values":[0,4],"labelExpr":"''+datum.value","title":null}}}},
{"width":279,"height":67,"data":{"name":"r2c4"},"title":{"text":"\u200b\u00a0\u00a0\u00a0\u00a0\u00a0\u00a0\u00a0-8","subtitle":"x 10"},
 "mark":{"type":"area","interpolate":"step-after","color":"#0000ff","stroke":"#0000ff","strokeWidth":3},
 "encoding":{"x":{"field":"t","type":"quantitative","scale":{"domain":[0,0.1],"nice":false},"axis":{"values":[0,0.05,0.1],"labels":false,"title":null}},
  "y":{"field":"v","type":"quantitative","scale":{"domain":[0,4],"nice":false},"axis":{"values":[0,4],"labelExpr":"''+datum.value","title":null}}}},

{"width":279,"height":67,"data":{"name":"r3c1"},"title":{"text":"\u200b\u00a0\u00a0\u00a0\u00a0\u00a0\u00a0\u00a0-5","subtitle":"x 10","offset":-17},
 "mark":{"type":"area","interpolate":"step-after","color":"#0000ff","stroke":"#0000ff","strokeWidth":3},
 "encoding":{"x":{"field":"t","type":"quantitative","scale":{"domain":[0,0.1],"nice":false},"axis":{"values":[0,0.05,0.1],"labels":false,"title":null}},
  "y":{"field":"v","type":"quantitative","scale":{"domain":[0,2],"nice":false},"axis":{"values":[0,2],"labelExpr":"''+datum.value","title":"Scale 3","titleX":-77,"titleY":33.5,"titleAngle":270,"titleAlign":"center","titleBaseline":"middle"}}}},
{"width":279,"height":67,"data":{"name":"r3c2"},"title":{"text":"\u200b\u00a0\u00a0\u00a0\u00a0\u00a0\u00a0\u00a0-5","subtitle":"x 10"},
 "mark":{"type":"area","interpolate":"step-after","color":"#0000ff","stroke":"#0000ff","strokeWidth":3},
 "encoding":{"x":{"field":"t","type":"quantitative","scale":{"domain":[0,0.1],"nice":false},"axis":{"values":[0,0.05,0.1],"labels":false,"title":null}},
  "y":{"field":"v","type":"quantitative","scale":{"domain":[0,1],"nice":false},"axis":{"values":[0,1],"labelExpr":"''+datum.value","title":null}}}},
{"width":279,"height":67,"data":{"name":"r3c3"},"title":{"text":"\u200b\u00a0\u00a0\u00a0\u00a0\u00a0\u00a0\u00a0-5","subtitle":"x 10"},
 "mark":{"type":"area","interpolate":"step-after","color":"#0000ff","stroke":"#0000ff","strokeWidth":3},
 "encoding":{"x":{"field":"t","type":"quantitative","scale":{"domain":[0,0.1],"nice":false},"axis":{"values":[0,0.05,0.1],"labels":false,"title":null}},
  "y":{"field":"v","type":"quantitative","scale":{"domain":[0,4],"nice":false},"axis":{"values":[0,4],"labelExpr":"''+datum.value","title":null}}}},
{"width":279,"height":67,"data":{"name":"r3c4"},"title":{"text":"\u200b\u00a0\u00a0\u00a0\u00a0\u00a0\u00a0\u00a0-7","subtitle":"x 10"},
 "mark":{"type":"area","interpolate":"step-after","color":"#0000ff","stroke":"#0000ff","strokeWidth":3},
 "encoding":{"x":{"field":"t","type":"quantitative","scale":{"domain":[0,0.1],"nice":false},"axis":{"values":[0,0.05,0.1],"labels":false,"title":null}},
  "y":{"field":"v","type":"quantitative","scale":{"domain":[0,4],"nice":false},"axis":{"values":[0,4],"labelExpr":"''+datum.value","title":null}}}},

{"width":279,"height":67,"data":{"name":"r4c1"},"title":{"text":"\u200b\u00a0\u00a0\u00a0\u00a0\u00a0\u00a0\u00a0-4","subtitle":"x 10","offset":-17},
 "mark":{"type":"area","interpolate":"step-after","color":"#0000ff","stroke":"#0000ff","strokeWidth":3},
 "encoding":{"x":{"field":"t","type":"quantitative","scale":{"domain":[0,0.1],"nice":false},"axis":{"values":[0,0.05,0.1],"labels":false,"title":null}},
  "y":{"field":"v","type":"quantitative","scale":{"domain":[0,1],"nice":false},"axis":{"values":[0,1],"labelExpr":"''+datum.value","title":"Scale 4","titleX":-77,"titleY":33.5,"titleAngle":270,"titleAlign":"center","titleBaseline":"middle"}}}},
{"width":279,"height":67,"data":{"name":"r4c2"},"title":{"text":"\u200b\u00a0\u00a0\u00a0\u00a0\u00a0\u00a0\u00a0-5","subtitle":"x 10"},
 "mark":{"type":"area","interpolate":"step-after","color":"#0000ff","stroke":"#0000ff","strokeWidth":3},
 "encoding":{"x":{"field":"t","type":"quantitative","scale":{"domain":[0,0.1],"nice":false},"axis":{"values":[0,0.05,0.1],"labels":false,"title":null}},
  "y":{"field":"v","type":"quantitative","scale":{"domain":[0,5],"nice":false},"axis":{"values":[0,5],"labelExpr":"''+datum.value","title":null}}}},
{"width":279,"height":67,"data":{"name":"r4c3"},"title":{"text":"\u200b\u00a0\u00a0\u00a0\u00a0\u00a0\u00a0\u00a0-5","subtitle":"x 10"},
 "mark":{"type":"area","interpolate":"step-after","color":"#0000ff","stroke":"#0000ff","strokeWidth":3},
 "encoding":{"x":{"field":"t","type":"quantitative","scale":{"domain":[0,0.1],"nice":false},"axis":{"values":[0,0.05,0.1],"labels":false,"title":null}},
  "y":{"field":"v","type":"quantitative","scale":{"domain":[0,1],"nice":false},"axis":{"values":[0,1],"labelExpr":"''+datum.value","title":null}}}},
{"width":279,"height":67,"data":{"name":"r4c4"},"title":{"text":"\u200b\u00a0\u00a0\u00a0\u00a0\u00a0\u00a0\u00a0-6","subtitle":"x 10"},
 "mark":{"type":"area","interpolate":"step-after","color":"#0000ff","stroke":"#0000ff","strokeWidth":3},
 "encoding":{"x":{"field":"t","type":"quantitative","scale":{"domain":[0,0.1],"nice":false},"axis":{"values":[0,0.05,0.1],"labels":false,"title":null}},
  "y":{"field":"v","type":"quantitative","scale":{"domain":[0,2],"nice":false},"axis":{"values":[0,2],"labelExpr":"''+datum.value","title":null}}}},

{"width":279,"height":67,"data":{"name":"r5c1"},"title":{"text":"\u200b\u00a0\u00a0\u00a0\u00a0\u00a0\u00a0\u00a0-5","subtitle":"x 10","offset":-17},
 "mark":{"type":"area","interpolate":"step-after","color":"#0000ff","stroke":"#0000ff","strokeWidth":3},
 "encoding":{"x":{"field":"t","type":"quantitative","scale":{"domain":[0,0.1],"nice":false},"axis":{"values":[0,0.05,0.1],"labelExpr":"''+datum.value","title":null}},
  "y":{"field":"v","type":"quantitative","scale":{"domain":[0,2],"nice":false},"axis":{"values":[0,2],"labelExpr":"''+datum.value","title":"Scale 5","titleX":-77,"titleY":33.5,"titleAngle":270,"titleAlign":"center","titleBaseline":"middle"}}}},
{"width":279,"height":67,"data":{"name":"r5c2"},"title":{"text":"\u200b\u00a0\u00a0\u00a0\u00a0\u00a0\u00a0\u00a0-6","subtitle":"x 10"},
 "mark":{"type":"area","interpolate":"step-after","color":"#0000ff","stroke":"#0000ff","strokeWidth":3},
 "encoding":{"x":{"field":"t","type":"quantitative","scale":{"domain":[0,0.1],"nice":false},"axis":{"values":[0,0.05,0.1],"labelExpr":"''+datum.value","title":"Time (sec)","titleX":326,"titleY":107,"titleAlign":"center","titleBaseline":"alphabetic"}},
  "y":{"field":"v","type":"quantitative","scale":{"domain":[0,4],"nice":false},"axis":{"values":[0,4],"labelExpr":"''+datum.value","title":null}}}},
{"width":279,"height":67,"data":{"name":"r5c3"},"title":{"text":"\u200b\u00a0\u00a0\u00a0\u00a0\u00a0\u00a0\u00a0-5","subtitle":"x 10"},
 "mark":{"type":"area","interpolate":"step-after","color":"#0000ff","stroke":"#0000ff","strokeWidth":3},
 "encoding":{"x":{"field":"t","type":"quantitative","scale":{"domain":[0,0.1],"nice":false},"axis":{"values":[0,0.05,0.1],"labelExpr":"''+datum.value","title":null}},
  "y":{"field":"v","type":"quantitative","scale":{"domain":[0,1],"nice":false},"axis":{"values":[0,1],"labelExpr":"''+datum.value","title":null}}}},
{"width":279,"height":67,"data":{"name":"r5c4"},"title":{"text":"\u200b\u00a0\u00a0\u00a0\u00a0\u00a0\u00a0\u00a0-7","subtitle":"x 10"},
 "mark":{"type":"area","interpolate":"step-after","color":"#0000ff","stroke":"#0000ff","strokeWidth":3},
 "encoding":{"x":{"field":"t","type":"quantitative","scale":{"domain":[0,0.1],"nice":false},"axis":{"values":[0,0.05,0.1],"labelExpr":"''+datum.value","title":null}},
  "y":{"field":"v","type":"quantitative","scale":{"domain":[0,4],"nice":false},"axis":{"values":[0,4],"labelExpr":"''+datum.value","title":null}}}}
]
}
